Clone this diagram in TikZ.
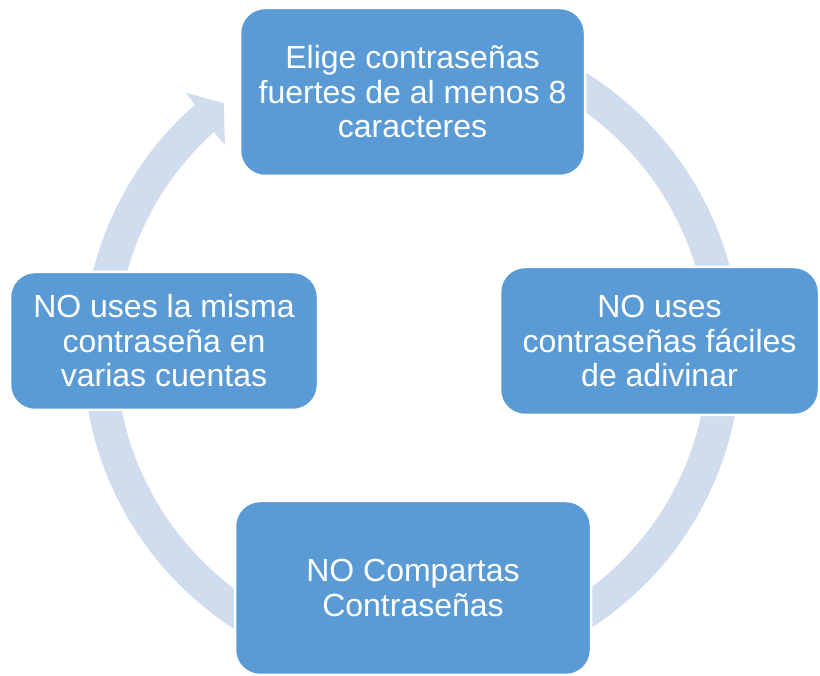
\documentclass[tikz,border=0pt]{standalone}
\usepackage{fontspec}
\setmainfont{Liberation Sans}
\definecolor{boxblue}{RGB}{91,155,213}
\definecolor{ringblue}{RGB}{207,221,238}

\begin{document}
\begin{tikzpicture}[x=1pt, y=1pt,
    paso/.style={rectangle, rounded corners=25pt, fill=boxblue, draw=white, line width=2.5pt,
      text=white, align=center, inner sep=0pt, font=\fontsize{32}{34.5}\selectfont}]
        \useasboundingbox (0,0) rectangle (820,676);
        \coordinate (centro) at (412,324);
        % anillo con flecha
        \begin{scope}[shift={(centro)}]
          \draw[ringblue, line width=33pt] (131:312.5) arc [start angle=131, end angle=450, radius=312.5];
          \fill[ringblue] (131.3:329) -- (131.1:344) -- (127.1:312) -- (132.1:279) -- (132:296) -- cycle;
        \end{scope}

        \node[paso, minimum width=345pt, minimum height=168pt] (elige) at (412.5,584) {Elige contraseñas\\fuertes de al menos 8\\caracteres};
        \node[paso, minimum width=319pt, minimum height=148pt] (faciles) at (659.5,335) {NO uses\\contraseñas fáciles\\de adivinar};
        \node[paso, minimum width=356pt, minimum height=174pt] (compartas) at (413,88) {NO Compartas\\Contraseñas};
        \node[paso, minimum width=308pt, minimum height=138pt] (misma) at (164,335) {NO uses la misma\\contraseña en\\varias cuentas};
      \end{tikzpicture}
\end{document}
